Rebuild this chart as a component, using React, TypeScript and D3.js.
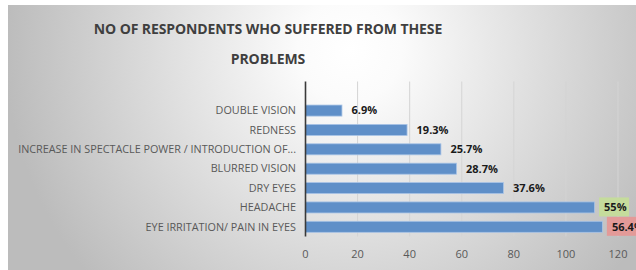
import React, { useRef, useEffect } from "react";
import * as d3 from "d3";

const categories = [
  "DOUBLE VISION",
  "REDNESS",
  "INCREASE IN SPECTACLE POWER / INTRODUCTION OF...",
  "BLURRED  VISION",
  "DRY EYES",
  "HEADACHE",
  "EYE IRRITATION/ PAIN IN EYES",
];
const values = [14, 39, 52, 58, 76, 111, 114];
const labels = ["6.9%", "19.3%", "25.7%", "28.7%", "37.6%", "55%", "56.4%"];
const labelBg = [null, null, null, null, null, "#c5dc9c", "#e39a98"];
const ticks = [0, 20, 40, 60, 80, 100, 120];
const titleLines = ["NO OF RESPONDENTS WHO SUFFERED FROM THESE", "PROBLEMS"];

const W = 636, H = 270;
const FONT = "'Open Sans', 'DejaVu Sans', sans-serif";

export default function App() {
  const ref = useRef<SVGSVGElement>(null);
  useEffect(() => {
    const svg = d3.select(ref.current);
    svg.selectAll("*").remove();

    const defs = svg.append("defs");
    const grad = defs.append("radialGradient")
      .attr("id", "bg").attr("gradientUnits", "userSpaceOnUse")
      .attr("cx", 350).attr("cy", 50).attr("r", 345);
    grad.append("stop").attr("offset", 0).attr("stop-color", "#ffffff");
    grad.append("stop").attr("offset", 0.15).attr("stop-color", "#fbfbfb");
    grad.append("stop").attr("offset", 1).attr("stop-color", "#bcbcbc");

    svg.append("rect").attr("x", 8).attr("y", 5).attr("width", W - 8).attr("height", H - 5)
      .attr("fill", "url(#bg)");

    const plotTop = 81.5, plotBottom = 236.5;
    const x = d3.scaleLinear().domain([0, 120]).range([305.5, 618]);
    const band = (plotBottom - plotTop) / (categories.length + 1);
    const y = d3.scaleBand().domain(categories).range([plotTop + band, plotBottom]).paddingInner(0.43).paddingOuter(0.215);

    // title
    svg.append("g").selectAll("text").data(titleLines).join("text")
      .attr("x", 268).attr("y", (_d, i) => 33.5 + i * 30.5)
      .attr("text-anchor", "middle").attr("font-family", FONT).attr("font-weight", "bold")
      .attr("font-size", 14).attr("letter-spacing", -0.1).attr("fill", "#3f3f3f").text(d => d);

    // gridlines
    svg.append("g").selectAll("line").data(ticks.slice(1)).join("line")
      .attr("x1", d => x(d)).attr("x2", d => x(d)).attr("y1", plotTop).attr("y2", plotBottom)
      .attr("stroke", "#d4d4d4").attr("stroke-width", 1);

    // bars
    svg.append("g").selectAll("rect").data(values).join("rect")
      .attr("x", x(0)).attr("y", (_d, i) => y(categories[i])!)
      .attr("width", d => x(d) - x(0)).attr("height", y.bandwidth())
      .attr("fill", "#5f8fc8").attr("stroke", "#a9c4e6").attr("stroke-width", 0.8);

    // axis line
    svg.append("line").attr("x1", x(0)).attr("x2", x(0)).attr("y1", plotTop).attr("y2", plotBottom)
      .attr("stroke", "#3a3a3a").attr("stroke-width", 1.6);

    // category labels
    svg.append("g").selectAll("text").data(categories).join("text")
      .attr("x", 296).attr("y", d => y(d)! + y.bandwidth() / 2)
      .attr("dy", "0.35em").attr("text-anchor", "end")
      .attr("font-family", FONT).attr("font-size", 10.8).attr("fill", "#595959").text(d => d);

    // value labels
    const vl = svg.append("g");
    values.forEach((v, i) => {
      const cy = y(categories[i])! + y.bandwidth() / 2;
      const tx = x(v) + 9.5;
      if (labelBg[i]) {
        vl.append("rect").attr("x", tx - 5).attr("y", cy - 10).attr("width", i === 6 ? 45 : 30).attr("height", 19)
          .attr("fill", labelBg[i]!);
      }
      vl.append("text").attr("x", tx).attr("y", cy).attr("dy", "0.35em")
        .attr("font-family", FONT).attr("font-weight", "bold").attr("font-size", 11)
        .attr("fill", "#1a1a1a").text(labels[i]);
    });

    // tick labels
    svg.append("g").selectAll("text").data(ticks).join("text")
      .attr("x", d => x(d)).attr("y", 258)
      .attr("text-anchor", "middle").attr("font-family", FONT).attr("font-size", 11)
      .attr("fill", "#595959").text(d => String(d));
  }, []);
  return (
    <svg ref={ref} width={W} height={H} style={{ position: "absolute", left: 0, top: 0, display: "block" }} />
  );
}
